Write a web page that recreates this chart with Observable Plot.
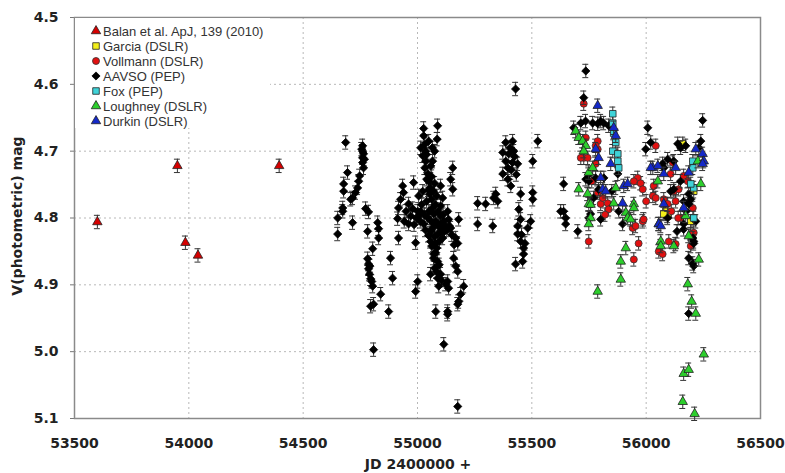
<!DOCTYPE html>
<html>
<head>
<meta charset="utf-8">
<script src="https://cdn.jsdelivr.net/npm/d3@7"></script>
<script src="https://cdn.jsdelivr.net/npm/@observablehq/plot@0.6"></script>
<style>
  body { margin: 0; background: #fff; }
  #chart svg { display: block; }
</style>
</head>
<body>
<div id="chart"></div>
<script>
// V-band photometry of the star, [JD - 2400000, V magnitude]
const balan = [
  [53600, 4.806], [53950, 4.722], [53985, 4.837], [54040, 4.856], [54395, 4.722]
];

const garcia = [
  [56160, 4.689], [56086, 4.790], [56094, 4.797], [56077, 4.794], [56208, 4.760], [56195, 4.805]
];

const vollmann = [
  [55727, 4.629], [55736, 4.680], [55727, 4.710], [55788, 4.685], [55788, 4.697], [55714, 4.710],
  [55744, 4.710], [55779, 4.719], [55779, 4.692], [55788, 4.762], [55801, 4.779], [55832, 4.778],
  [55836, 4.787], [55810, 4.770], [55963, 4.740], [55976, 4.748], [55985, 4.757], [55946, 4.745],
  [55749, 4.835], [55941, 4.815], [55954, 4.812], [55985, 4.805], [55967, 4.838], [55946, 4.862],
  [56042, 4.692], [56033, 4.752], [56029, 4.767], [56042, 4.770], [56107, 4.734], [56116, 4.717],
  [56121, 4.760], [56142, 4.757], [56129, 4.775], [56077, 4.772], [56094, 4.779], [56164, 4.737],
  [56182, 4.745], [56151, 4.800], [56055, 4.850], [56072, 4.854], [56099, 4.835], [56129, 4.839],
  [56195, 4.842], [56208, 4.822], [56204, 4.785], [55989, 4.802], [56195, 4.824], [56000, 4.775],
  [55762, 4.745], [55820, 4.795], [56140, 4.800], [56110, 4.790]
];

const aavso = [
  // 2008-2009 season
  [54686, 4.687], [54760, 4.692], [54760, 4.700], [54764, 4.704], [54760, 4.710], [54760, 4.717],
  [54694, 4.732], [54677, 4.749], [54677, 4.760], [54747, 4.737], [54743, 4.745], [54738, 4.755],
  [54729, 4.762], [54716, 4.770], [54708, 4.772], [54673, 4.785], [54673, 4.790], [54651, 4.800],
  [54651, 4.824], [54716, 4.807], [54773, 4.786], [54786, 4.791], [54782, 4.820], [54826, 4.807],
  [54830, 4.816], [54830, 4.830], [54804, 4.846], [54782, 4.861], [54786, 4.869], [54786, 4.876],
  [54790, 4.884], [54795, 4.891], [54804, 4.902], [54839, 4.914], [54795, 4.932], [54808, 4.929],
  [54874, 4.940], [54882, 4.860], [54891, 4.890], [54808, 4.997], [54764, 4.725], [54756, 4.697],
  [54768, 4.712], [54792, 4.872], [54800, 4.895],
  // 2009-2010 season
  [54913, 4.801], [54917, 4.830], [54935, 4.752], [54939, 4.762], [54926, 4.772], [54917, 4.785],
  [54961, 4.809], [54983, 4.747], [54992, 4.837], [54961, 4.779], [54979, 4.786], [55001, 4.790],
  [55027, 4.666], [55027, 4.677], [55088, 4.662], [55014, 4.695], [55023, 4.707], [55036, 4.715],
  [55032, 4.725], [55045, 4.734], [55049, 4.745], [55057, 4.755], [55053, 4.764], [55040, 4.775],
  [55066, 4.785], [55071, 4.794], [55080, 4.805], [55066, 4.815], [55088, 4.824], [55057, 4.835],
  [55084, 4.845], [55071, 4.854], [55088, 4.865], [55075, 4.875], [55101, 4.884], [55093, 4.902],
  [55045, 4.800], [55027, 4.809], [55014, 4.790], [55005, 4.797], [55101, 4.797], [55115, 4.805],
  [55123, 4.812], [55136, 4.802], [55036, 4.700], [55066, 4.715], [55075, 4.700], [55049, 4.685],
  [55101, 4.782], [55084, 4.767], [55101, 4.752], [55023, 4.760], [55005, 4.767], [55001, 4.895],
  [54992, 4.910], [55080, 4.940], [55132, 4.940], [55132, 4.944], [55057, 4.884], [55088, 4.890],
  [55123, 4.899], [55136, 4.905], [55154, 4.725], [55145, 4.742], [55154, 4.757], [55132, 4.790],
  [55145, 4.815], [55180, 4.802], [55167, 4.830], [55176, 4.838], [55158, 4.860], [55167, 4.872],
  [55176, 4.880], [55202, 4.902], [55189, 4.914], [55180, 4.925], [55176, 4.929], [55115, 4.989],
  [55176, 5.082], [55263, 4.778], [55263, 4.809], [55132, 4.895], [55060, 4.820], [55092, 4.812],
  [55050, 4.790], [55110, 4.830], [55040, 4.742], [55070, 4.760],
  [55032, 4.690], [55040, 4.705], [55058, 4.722], [55062, 4.738], [55075, 4.748], [55048, 4.758],
  [55062, 4.772], [55078, 4.780], [55090, 4.790], [55055, 4.803], [55070, 4.808], [55098, 4.810],
  [55108, 4.815], [55035, 4.818], [55048, 4.826], [55075, 4.828], [55100, 4.822], [55118, 4.820],
  [55128, 4.818], [55062, 4.842], [55078, 4.838], [55095, 4.835], [55070, 4.860], [55080, 4.852],
  [55095, 4.870], [55083, 4.880], [55105, 4.893], [55018, 4.780], [55030, 4.795], [55012, 4.805],
  [54995, 4.800], [54985, 4.810], [54970, 4.797], [54950, 4.790], [54942, 4.805], [55112, 4.795],
  [55140, 4.812], [55150, 4.825], [55160, 4.840], [55086, 4.682], [55065, 4.695], [55110, 4.770],
  // 2010-2011 season
  [55298, 4.779], [55333, 4.770], [55351, 4.775], [55342, 4.764], [55329, 4.812], [55386, 4.687],
  [55416, 4.685], [55373, 4.702], [55399, 4.704], [55421, 4.700], [55386, 4.715], [55416, 4.717],
  [55438, 4.719], [55395, 4.725], [55373, 4.734], [55395, 4.742], [55408, 4.752], [55429, 4.607],
  [55451, 4.764], [55504, 4.772], [55504, 4.762], [55526, 4.685], [55504, 4.715], [55443, 4.787],
  [55451, 4.802], [55438, 4.812], [55438, 4.824], [55451, 4.835], [55464, 4.845], [55464, 4.854],
  [55460, 4.865], [55429, 4.869], [55482, 4.815], [55495, 4.805], [55405, 4.695], [55425, 4.708],
  [55410, 4.728], [55432, 4.735], [55455, 4.825], [55470, 4.838],
  // 2011-2012 season
  [55626, 4.790], [55639, 4.749], [55639, 4.790], [55648, 4.800], [55648, 4.809], [55701, 4.820],
  [55736, 4.580], [55727, 4.620], [55683, 4.665], [55714, 4.658], [55766, 4.658], [55788, 4.659],
  [55814, 4.658], [55735, 4.655], [55801, 4.655], [55836, 4.662], [55749, 4.745], [55779, 4.740],
  [55792, 4.757], [55876, 4.734], [55801, 4.802], [55880, 4.790], [55897, 4.809], [55757, 4.794],
  [55736, 4.742], [55749, 4.735], [55749, 4.800], [55770, 4.770], [55815, 4.740], [55850, 4.760],
  // 2012 season
  [56007, 4.665], [56020, 4.687], [55998, 4.697], [56247, 4.654], [56094, 4.712], [56121, 4.715],
  [56138, 4.689], [56151, 4.695], [56173, 4.692], [56107, 4.760], [56121, 4.757], [56186, 4.764],
  [56195, 4.772], [56164, 4.809], [56164, 4.817], [56204, 4.830], [56208, 4.835], [56186, 4.860],
  [56204, 4.868], [56208, 4.872], [56239, 4.685], [56230, 4.695], [56072, 4.719], [56077, 4.725],
  [56094, 4.800], [56217, 4.805], [56164, 4.775], [56186, 4.779], [56186, 4.943], [56208, 4.838],
  [56150, 4.745], [56175, 4.790], [56135, 4.820]
];

const fox = [
  [55854, 4.644], [55854, 4.658], [55858, 4.673], [55867, 4.687], [55854, 4.700], [55876, 4.704],
  [55876, 4.715], [55880, 4.725], [56204, 4.715], [56204, 4.725], [56208, 4.755], [56195, 4.749],
  [56208, 4.800]
];

const loughney = [
  [55705, 4.757], [55692, 4.670], [55705, 4.680], [55722, 4.685], [55736, 4.692], [55749, 4.732],
  [55744, 4.764], [55749, 4.779], [55757, 4.800], [55749, 4.809], [55788, 4.910], [55867, 4.755],
  [55858, 4.778], [55911, 4.792], [55919, 4.800], [55946, 4.779], [55911, 4.845], [55889, 4.865],
  [55889, 4.892], [55766, 4.725], [56055, 4.809], [56064, 4.835], [56064, 4.842], [55946, 4.785],
  [55932, 4.802], [56121, 4.842], [56226, 4.715], [56239, 4.749], [56173, 4.797], [56186, 4.827],
  [56230, 4.862], [56182, 4.899], [56199, 4.925], [56217, 4.943], [56252, 5.004], [56164, 5.033],
  [56186, 5.027], [56160, 5.075], [56212, 5.093], [56051, 4.745], [55727, 4.700], [55757, 4.780]
];

const durkin = [
  [55788, 4.632], [55858, 4.665], [55867, 4.677], [55779, 4.697], [55792, 4.710], [55845, 4.719],
  [55810, 4.757], [55823, 4.760], [55902, 4.752], [55919, 4.749], [55897, 4.778], [56055, 4.809],
  [56029, 4.725], [56051, 4.722], [56020, 4.725], [56077, 4.734], [56129, 4.725], [56077, 4.779],
  [56164, 4.785], [56064, 4.812], [56247, 4.704], [56252, 4.715], [56217, 4.697], [56247, 4.719],
  [56186, 4.732], [55801, 4.740]
];

const xTicks = [53500, 54000, 54500, 55000, 55500, 56000, 56500];
const yTicks = [4.5, 4.6, 4.7, 4.8, 4.9, 5.0, 5.1];

// Series styling in legend order (later series drawn on top)
const series = [
  {name: "Balan et al. ApJ, 139 (2010)", data: balan, symbol: "triangle", r: 3.5, fill: "#d40000", stroke: "#222"},
  {name: "Garcia (DSLR)", data: garcia, symbol: "square", r: 3.7, fill: "#f2ef1a", stroke: "#222"},
  {name: "Vollmann (DSLR)", data: vollmann, symbol: "circle", r: 3.5, fill: "#e21010", stroke: "#333"},
  {name: "AAVSO (PEP)", data: aavso, symbol: "diamond2", r: 3.7, fill: "#000", stroke: "#000"},
  {name: "Fox (PEP)", data: fox, symbol: "square", r: 3.7, fill: "#3fd3d8", stroke: "#222"},
  {name: "Loughney (DSLR)", data: loughney, symbol: "triangle", r: 3.5, fill: "#2ccf2c", stroke: "#222"},
  {name: "Durkin (DSLR)", data: durkin, symbol: "triangle", r: 3.5, fill: "#1428c8", stroke: "#222"}
];

const err = 0.01;   // photometric error bar half-length, mag
const cap = 13;     // error bar cap half-width, days

const fontAxis = "'DejaVu Sans', sans-serif";

const seriesMarks = series.flatMap(s => [
  Plot.ruleX(s.data, {x: d => d[0], y1: d => d[1] - err, y2: d => d[1] + err, stroke: "#333", strokeWidth: 1}),
  Plot.ruleY(s.data, {y: d => d[1] - err, x1: d => d[0] - cap, x2: d => d[0] + cap, stroke: "#333", strokeWidth: 1}),
  Plot.ruleY(s.data, {y: d => d[1] + err, x1: d => d[0] - cap, x2: d => d[0] + cap, stroke: "#333", strokeWidth: 1}),
  Plot.dot(s.data, {x: d => d[0], y: d => d[1], symbol: s.symbol, r: s.r, fill: s.fill, stroke: s.stroke, strokeWidth: 0.8})
]);

const chart = Plot.plot({
  width: 785,
  height: 473,
  marginLeft: 74,
  marginRight: 25,
  marginTop: 17,
  marginBottom: 55,
  style: {fontFamily: fontAxis, background: "#fff"},
  x: {domain: [53500, 56500], label: null},
  y: {domain: [4.5, 5.1], reverse: true, label: null},
  marks: [
    Plot.gridX([54000, 54500, 55000, 55500, 56000], {stroke: "#b8b8b8", strokeOpacity: 1, strokeDasharray: "2,3"}),
    Plot.gridY([4.6, 4.7, 4.8, 4.9, 5.0], {stroke: "#b8b8b8", strokeOpacity: 1, strokeDasharray: "2,3"}),
    Plot.axisX(xTicks, {tickSize: 0, tickPadding: 20, tickFormat: d => String(d), fontSize: 14, fontWeight: "bold", fill: "#222", label: null}),
    Plot.axisY(yTicks, {tickSize: 4, tickPadding: 12, tickFormat: d3.format(".1f"), fontSize: 14, fontWeight: "bold", fill: "#222", stroke: "#777", label: null}),
    Plot.frame({stroke: "#8a8a8a", strokeWidth: 1.5}),
    ...seriesMarks
  ]
});

document.getElementById("chart").appendChild(chart);

const svg = d3.select(chart);

// Axis titles
svg.append("text")
  .attr("x", 418).attr("y", 469)
  .attr("text-anchor", "middle")
  .style("font", "bold 14px " + fontAxis)
  .attr("fill", "#222")
  .text("JD 2400000 +");

svg.append("text")
  .attr("transform", "translate(22,216) rotate(-90)")
  .attr("text-anchor", "middle")
  .style("font", "bold 14px " + fontAxis)
  .attr("fill", "#222")
  .text("V(photometric) mag");

// Legend inside the top-left corner of the plot area
const symbolTypes = {
  triangle: d3.symbolTriangle,
  square: d3.symbolSquare,
  circle: d3.symbolCircle,
  diamond2: d3.symbolDiamond2
};
const legend = svg.append("g");
legend.append("rect")
  .attr("x", 75).attr("y", 18).attr("width", 195).attr("height", 110)
  .attr("fill", "#fff");
series.forEach((s, i) => {
  const y = 31 + i * 15;
  legend.append("path")
    .attr("transform", `translate(96,${y})`)
    .attr("d", d3.symbol(symbolTypes[s.symbol], Math.PI * s.r * s.r)())
    .attr("fill", s.fill)
    .attr("stroke", s.stroke)
    .attr("stroke-width", 0.8);
  legend.append("text")
    .attr("x", 103).attr("y", y + 4.5)
    .attr("text-anchor", "start")
    .style("font", "13px 'Liberation Sans', Arial, sans-serif")
    .attr("fill", "#333")
    .text(s.name);
});
</script>
</body>
</html>
